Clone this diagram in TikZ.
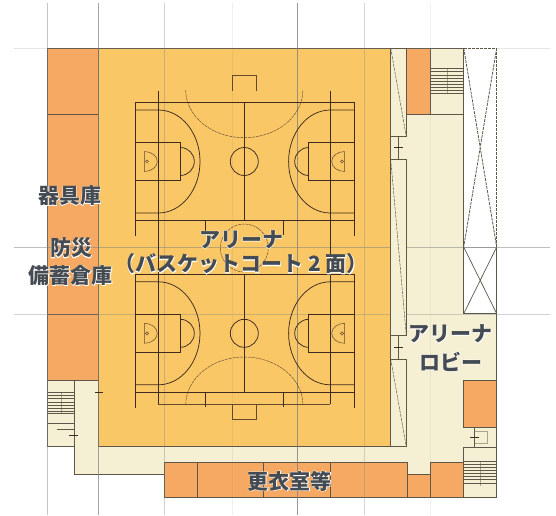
\documentclass[tikz,border=0pt]{standalone}
\usepackage{fontspec}
\newfontfamily\jp{Noto Sans CJK JP}
\newfontfamily\jphalo[FakeBold=4]{Noto Sans CJK JP}
\definecolor{arena}{HTML}{F9C766}
\definecolor{store}{HTML}{F5A962}
\definecolor{lobby}{HTML}{F5F0D4}
\definecolor{wall}{HTML}{5E5648}
\definecolor{ink}{HTML}{3E2A20}
\definecolor{txt}{HTML}{454B52}
\newcommand{\lbl}[1]{\makebox[0pt][l]{\jphalo\bfseries\color{white}#1}{\jp\bfseries\color{txt}#1}}
\tikzset{
  room/.style={draw=wall,line width=0.8pt},
  gridl/.style={draw=gray,line width=0.5pt},
  court/.style={draw=ink,line width=0.75pt},
  thin court/.style={draw=ink!80!arena,line width=0.5pt},
  dash court/.style={draw=ink!80!arena,line width=0.45pt,dash pattern=on 3pt off 0.8pt},
  void/.style={draw=wall,line width=0.8pt,dash pattern=on 3pt off 1pt},
  tread/.style={draw=wall,line width=0.5pt},
  label/.style={inner sep=0pt,font=\fontsize{21}{21}\selectfont}
}
\begin{document}
\begin{tikzpicture}[x=1pt,y=-1pt]
\useasboundingbox (0,0) rectangle (556,515);
\fill[white] (0,0) rectangle (556,515);
% lobby and corridors
\filldraw[fill=lobby,room] (390.7,48) -- (463.7,48) -- (463.7,313.7) -- (496.7,313.7) -- (496.7,497.3) -- (407,497.3) -- (407,462.3) -- (164.5,462.3) -- (164.5,474) -- (74.7,474) -- (74.7,446.7) -- (47.5,446.7) -- (47.5,380.3) -- (98.5,380.3) -- (98.5,446.7) -- (390.7,446.7) -- cycle;
% arena
\filldraw[fill=arena,room] (98.5,48) rectangle (390.7,446.7);
% stores
\filldraw[fill=store,room] (47.5,48) rectangle (98.5,114.5);
\filldraw[fill=store,room] (47.5,114.5) rectangle (98.5,314);
\filldraw[fill=store,room] (47.5,314) rectangle (98.5,380.3);
\filldraw[fill=store,room] (406.3,48) rectangle (430.7,114.3);
\filldraw[fill=store,room] (463.7,380.3) rectangle (496.7,427.3);
\filldraw[fill=store,room] (164.5,462.3) rectangle (197.7,497.3);
\filldraw[fill=store,room] (197.7,462.3) rectangle (263.3,497.3);
\filldraw[fill=store,room] (263.3,462.3) rectangle (330.3,497.3);
\filldraw[fill=store,room] (330.3,462.3) rectangle (407,497.3);
\filldraw[fill=store,room] (407,474) rectangle (430.7,497.3);
\filldraw[fill=store,room] (430.7,462.3) rectangle (463.7,497.3);
% lobby partitions
\draw[room] (430.7,114.3) -- (463.7,114.3);
\draw[room] (74.7,380.3) -- (74.7,446.7);
\draw[room] (463.7,447) -- (496.7,447);
\draw[room] (463.7,447) -- (463.7,497.3);
% grid
\foreach \gx/\op in {47.5/.45,98.5/.7,164.5/.35,232/.12,297.4/.8,364/.3,430.7/.1}
  \draw[gridl,opacity=\op] (\gx,3) -- (\gx,515);
\foreach \gy/\op in {48/.2,247/.5,314/.35}
  \draw[gridl,opacity=\op] (14,\gy) -- (550,\gy);
% wall strips on the right of the arena
\foreach \ya/\yb in {48/136.7,159.3/335.3,359/446.7}{
  \filldraw[fill=lobby,room] (390.7,\ya) rectangle (406.3,\yb);
}
\draw[void,line width=0.5pt] (390.7,48) -- (406.3,136.7);
\draw[void,line width=0.5pt] (390.7,159.3) -- (406.3,335.3);
\draw[void,line width=0.5pt] (390.7,359) -- (406.3,446.7);
\draw[room] (398.7,136.7) -- (398.7,159.3) (398.7,335.3) -- (398.7,359);
\draw[court] (394,147.7) -- (403,147.7) (394,347) -- (403,347);
% void
\fill[white] (463.7,48) rectangle (496.7,313.7);
\draw[void] (463.7,48) -- (496.7,48);
\draw[void] (496.7,48) -- (496.7,247);
\draw[room] (463.7,48) -- (463.7,247) -- (463.7,313.7);
\draw[room] (496.7,247) -- (496.7,313.7) -- (463.7,313.7);
\draw[void] (463.7,48) -- (496.7,247) (496.7,48) -- (463.7,247);
\draw[room,line width=0.7pt] (463.7,247) -- (496.7,313.7) (496.7,247) -- (463.7,313.7);
\draw[gridl,opacity=.8] (463.7,247) -- (496.7,247);
% courts
\draw[court] (158.3,91) -- (158.3,404) (330.3,91) -- (330.3,404);
\draw[thin court] (158.3,404) -- (330.3,404);
\foreach \yc/\yt/\yb in {161.5/102.7/220,333.3/274.7/392.3}{
  \draw[court] (135,\yt) -- (354.7,\yt) (135,\yb) -- (354.7,\yb);
  \draw[court] (135,\yt) -- (135,\yb+15.7) (354.7,\yt) -- (354.7,\yb+15.7);
  \draw[court] (244.3,\yt) -- (244.3,\yb);
  \draw[court] (244.3,\yc) circle[radius=14];
  \draw[court] (205,\yb) -- (205,\yb+15) (283,\yb) -- (283,\yb+15);
  % left key
  \draw[court] (135,\yc-19) rectangle (180.3,\yc+19);
  \draw[court] (180.3,\yc-14) arc[start angle=-90,end angle=90,radius=14];
  \draw[court] (135,\yc-51.5) -- (158.3,\yc-51.5) arc[start angle=-90,end angle=90,x radius=41.7,y radius=51.5] -- (135,\yc+51.5);
  \draw[thin court] (144.3,\yc-10) -- (144.3,\yc+10) (144.3,\yc-10) arc[start angle=-90,end angle=90,x radius=13,y radius=10];
  \draw[thin court] (147,\yc) circle[radius=1.6];
  % right key
  \draw[court] (354.7,\yc-19) rectangle (308.7,\yc+19);
  \draw[court] (308.7,\yc-14) arc[start angle=270,end angle=90,radius=14];
  \draw[court] (354.7,\yc-51.5) -- (330.3,\yc-51.5) arc[start angle=270,end angle=90,x radius=41.7,y radius=51.5] -- (354.7,\yc+51.5);
  \draw[thin court] (344.7,\yc-10) -- (344.7,\yc+10) (344.7,\yc-10) arc[start angle=270,end angle=90,x radius=13,y radius=10];
  \draw[thin court] (342,\yc) circle[radius=1.6];
}
% dashed free-throw style arcs and end boxes
\draw[dash court] (185.7,90) arc[start angle=180,end angle=0,x radius=58.6,y radius=47.7];
\draw[dash court] (185.7,405) arc[start angle=180,end angle=0,x radius=58.6,y radius=-48];
\draw[dash court] (244.3,248) circle[radius=24];
\draw[thin court] (232.7,91) -- (232.7,75.7) -- (256.7,75.7) -- (256.7,91);
\draw[thin court] (232.7,404) -- (232.7,419.7) -- (256.7,419.7) -- (256.7,404);
% stairs
\foreach \sy in {68,71,75,78,81,84,87,90,93}
  \draw[tread] (430.7,\sy) -- (463.7,\sy);
\draw[tread,opacity=.5] (447,68) -- (447,93);
\foreach \sy in {392,395,398,402,405,408,411,413}
  \draw[tread] (47.5,\sy) -- (74.7,\sy);
\draw[tread,opacity=.5] (61,392) -- (61,413);
\draw[room] (47.5,423.7) -- (74.7,423.7);
\draw[tread] (57,429) -- (74.7,429);
\foreach \sy in {461,464,467,470,473,476,479,483}
  \draw[tread] (463.7,\sy) -- (496.7,\sy);
\draw[tread,opacity=.5] (480,461) -- (480,486);
% small door
\draw[room] (474,427.3) -- (474,447);
\draw[tread,opacity=.5] (474,431) rectangle (487,443);
\draw[court] (470,437) -- (479,437);
\draw[court] (94.7,392) -- (103,392) (69,435.5) -- (78,435.5);
% labels
\node[label] (a) at (69.5,195.5) {\lbl{器具庫}};
\node[label] (b) at (71,248) {\lbl{防災}};
\node[label] (c) at (70.5,275.5) {\lbl{備蓄倉庫}};
\node[label] (d) at (241,239.5) {\lbl{アリーナ}};
\node[label] (e) at (241,264) {\lbl{（バスケットコート 2 面）}};
\node[label] (f) at (450.5,334) {\lbl{アリーナ}};
\node[label] (g) at (450.5,361.5) {\lbl{ロビー}};
\node[label] (h) at (289.5,481) {\lbl{更衣室等}};
\end{tikzpicture}
\end{document}
